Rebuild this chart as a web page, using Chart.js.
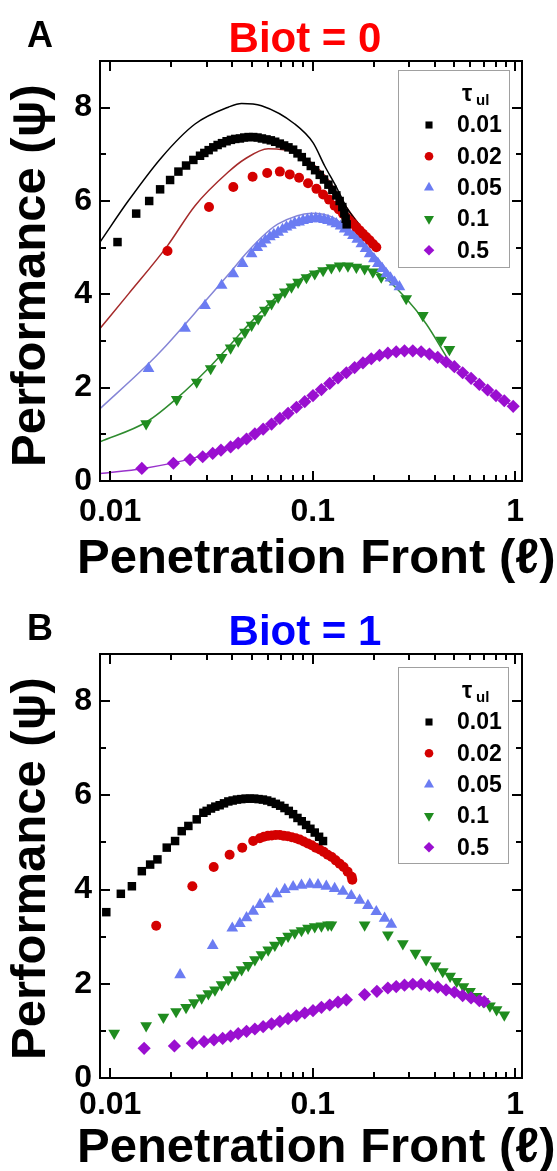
<!DOCTYPE html>
<html>
<head>
<meta charset="utf-8">
<script src="https://cdn.jsdelivr.net/npm/chart.js@4.4.1/dist/chart.umd.min.js"></script>
<style>
  body { margin: 0; background: #fff; }
  #wrap { position: relative; width: 557px; height: 1171px; overflow: hidden; font-family: "Liberation Sans", Arial, sans-serif; font-weight: bold; color: #000; }
  canvas { position: absolute; left: 0; }
  .letter { position: absolute; left: 27px; font-size: 36px; line-height: 36px; }
  .biot { position: absolute; left: 100px; width: 410px; text-align: center; font-size: 42px; line-height: 42px; }
  .xtitle { position: absolute; left: 77px; font-size: 49px; line-height: 49px; white-space: nowrap; }
  .ytitle { position: absolute; left: -182px; width: 420px; height: 49px; text-align: center; font-size: 49px; line-height: 49px; white-space: nowrap; transform: rotate(-90deg); }
</style>
</head>
<body>
<div id="wrap">
  <canvas id="chartA" width="557" height="593" style="top:0"></canvas>
  <canvas id="chartB" width="557" height="578" style="top:593px"></canvas>
  <div class="letter" style="top:17px">A</div>
  <div class="biot" style="top:17px; color:#f00">Biot = 0</div>
  <div class="ytitle" style="top:251px">Performance (ψ)</div>
  <div class="xtitle" style="top:532px">Penetration Front (ℓ)</div>
  <div class="letter" style="top:610px">B</div>
  <div class="biot" style="top:610px; color:#00f">Biot = 1</div>
  <div class="ytitle" style="top:844px">Performance (ψ)</div>
  <div class="xtitle" style="top:1121px">Penetration Front (ℓ)</div>
</div>
<script>
const tauLabels = ['0.01', '0.02', '0.05', '0.1', '0.5'];
const xTicks = [0.01, 0.1, 1];
const xMinorTicks = [0.02, 0.03, 0.04, 0.05, 0.06, 0.07, 0.08, 0.09, 0.2, 0.3, 0.4, 0.5, 0.6, 0.7, 0.8, 0.9];
const yTicks = [0, 2, 4, 6, 8];
const yMinorTicks = [1, 3, 5, 7];

// panel A (Biot = 0), symbols
const aX001 = [0.01086, 0.01343, 0.01557, 0.01763, 0.01975, 0.02171, 0.02368, 0.02573, 0.02776, 0.02915, 0.03062, 0.03228, 0.03391, 0.03563, 0.03755, 0.03945, 0.04145, 0.04369, 0.04589, 0.04822, 0.05083, 0.05339, 0.05609, 0.05912, 0.06211, 0.06524, 0.06877, 0.07224, 0.07589, 0.0800, 0.0841, 0.0883, 0.0931, 0.0978, 0.1027, 0.1083, 0.1137, 0.1195, 0.1250, 0.1308, 0.1358, 0.1400, 0.1432, 0.1454, 0.1471];
const aY001 = [5.12, 5.73, 6.00, 6.25, 6.45, 6.63, 6.76, 6.88, 6.97, 7.03, 7.09, 7.15, 7.20, 7.24, 7.28, 7.31, 7.33, 7.34, 7.36, 7.37, 7.37, 7.36, 7.34, 7.32, 7.30, 7.27, 7.23, 7.19, 7.15, 7.10, 7.02, 6.94, 6.84, 6.75, 6.66, 6.56, 6.46, 6.35, 6.24, 6.12, 6.00, 5.87, 5.74, 5.62, 5.50];
const aX002 = [0.01917, 0.03074, 0.04052, 0.05047, 0.05957, 0.0688, 0.0770, 0.0856, 0.0948, 0.1043, 0.1125, 0.1204, 0.1283, 0.1346, 0.1410, 0.1465, 0.1521, 0.1580, 0.1642, 0.1705, 0.1770, 0.1838, 0.1910, 0.1985, 0.2060];
const aY002 = [4.93, 5.87, 6.30, 6.52, 6.60, 6.63, 6.57, 6.50, 6.38, 6.26, 6.14, 6.03, 5.90, 5.82, 5.73, 5.65, 5.58, 5.51, 5.44, 5.37, 5.30, 5.23, 5.16, 5.08, 5.01];
const aX005 = [0.01545, 0.02342, 0.02938, 0.03548, 0.04052, 0.04503, 0.04989, 0.0532, 0.05585, 0.05846, 0.0614, 0.06425, 0.06747, 0.07089, 0.0742, 0.07793, 0.0815, 0.0856, 0.0896, 0.0941, 0.0985, 0.1035, 0.1083, 0.1137, 0.1190, 0.1250, 0.1308, 0.1373, 0.1438, 0.1510, 0.1580, 0.1660, 0.1738, 0.1824, 0.1910, 0.2005, 0.2098, 0.2203, 0.2307, 0.2421, 0.2535, 0.2680];
const aY005 = [2.41, 3.27, 3.76, 4.19, 4.44, 4.66, 4.87, 5.00, 5.08, 5.16, 5.23, 5.28, 5.33, 5.39, 5.44, 5.48, 5.53, 5.55, 5.58, 5.60, 5.62, 5.63, 5.62, 5.60, 5.58, 5.55, 5.51, 5.46, 5.40, 5.33, 5.26, 5.18, 5.08, 4.98, 4.87, 4.76, 4.66, 4.55, 4.44, 4.35, 4.26, 4.16];
const aX01 = [0.01504, 0.0213, 0.02673, 0.03133, 0.03548, 0.0393, 0.04285, 0.04624, 0.04989, 0.05378, 0.05801, 0.06261, 0.06747, 0.07279, 0.07854, 0.08467, 0.0931, 0.1023, 0.1125, 0.1236, 0.1358, 0.1492, 0.1642, 0.1804, 0.1982, 0.2179, 0.2894, 0.3496, 0.4305, 0.4730];
const aY01 = [1.23, 1.75, 2.12, 2.41, 2.65, 2.85, 3.00, 3.19, 3.34, 3.48, 3.66, 3.80, 3.94, 4.05, 4.16, 4.26, 4.36, 4.44, 4.51, 4.57, 4.61, 4.61, 4.58, 4.55, 4.48, 4.37, 3.91, 3.55, 3.02, 2.82];
const aX05 = [0.01432, 0.02051, 0.02478, 0.02861, 0.03206, 0.03522, 0.0393, 0.04285, 0.0471, 0.05179, 0.0569, 0.06261, 0.0688, 0.07556, 0.0831, 0.0913, 0.1003, 0.1104, 0.1213, 0.1333, 0.1466, 0.1610, 0.1770, 0.1946, 0.2138, 0.2350, 0.2584, 0.2839, 0.3120, 0.3431, 0.3769, 0.4142, 0.4555, 0.5006, 0.5500, 0.6052, 0.6650, 0.7306, 0.8035, 0.8830, 0.9770];
const aY05 = [0.27, 0.38, 0.46, 0.52, 0.59, 0.66, 0.73, 0.81, 0.90, 1.01, 1.11, 1.22, 1.34, 1.45, 1.58, 1.70, 1.83, 1.96, 2.09, 2.21, 2.32, 2.43, 2.53, 2.62, 2.69, 2.74, 2.77, 2.79, 2.79, 2.77, 2.72, 2.65, 2.55, 2.45, 2.32, 2.20, 2.07, 1.95, 1.83, 1.72, 1.60];

// panel A, model curves
const aFitX001 = [0.0089, 0.01231, 0.01797, 0.02623, 0.03826, 0.04454, 0.05585, 0.0815, 0.1003, 0.1146, 0.1308, 0.1466, 0.1839];
const aFitY001 = [5.12, 6.01, 6.94, 7.65, 8.01, 8.09, 8.04, 7.65, 7.25, 6.75, 6.30, 5.87, 5.30];
const aFitX002 = [0.0089, 0.01231, 0.01923, 0.02623, 0.03826, 0.04624, 0.06026, 0.0815, 0.1146, 0.1466, 0.1839, 0.2138];
const aFitY002 = [3.27, 4.01, 5.05, 5.90, 6.62, 6.90, 7.12, 7.04, 6.55, 5.87, 5.30, 4.94];
const aFitX005 = [0.0089, 0.01517, 0.0183, 0.02938, 0.04052, 0.04624, 0.0591, 0.06747, 0.0985, 0.1259, 0.158, 0.206, 0.268];
const aFitY005 = [1.55, 2.48, 2.84, 3.85, 4.55, 4.85, 5.32, 5.51, 5.74, 5.65, 5.30, 4.80, 4.19];
const aFitX01 = [0.0089, 0.01517, 0.0213, 0.0311, 0.03826, 0.04538, 0.0662, 0.0967, 0.141, 0.2138, 0.2894, 0.363, 0.464];
const aFitY01 = [0.84, 1.27, 1.77, 2.45, 2.87, 3.23, 3.94, 4.44, 4.62, 4.44, 3.91, 3.37, 2.62];
const aFitX05 = [0.0089, 0.01459, 0.02573, 0.03755, 0.0548, 0.080, 0.1167, 0.1704, 0.2487, 0.312, 0.4066, 0.530, 0.717, 0.989];
const aFitY05 = [0.16, 0.27, 0.49, 0.73, 1.08, 1.53, 2.05, 2.50, 2.76, 2.79, 2.67, 2.37, 1.97, 1.59];

// panel B (Biot = 1), symbols
const bX001 = [0.00956, 0.01128, 0.01279, 0.01432, 0.01574, 0.0171, 0.01901, 0.0209, 0.02254, 0.02431, 0.02673, 0.02883, 0.02994, 0.03145, 0.03303, 0.0347, 0.03645, 0.03829, 0.04023, 0.04225, 0.04438, 0.04661, 0.04896, 0.0514, 0.054, 0.05673, 0.05957, 0.06258, 0.06573, 0.06904, 0.07252, 0.07617, 0.0800, 0.08404, 0.08828, 0.09272, 0.09739, 0.1023, 0.1075, 0.1124];
const bY001 = [3.52, 3.91, 4.07, 4.39, 4.53, 4.64, 4.89, 5.03, 5.24, 5.35, 5.49, 5.63, 5.67, 5.72, 5.76, 5.79, 5.83, 5.87, 5.89, 5.91, 5.92, 5.93, 5.93, 5.93, 5.92, 5.91, 5.89, 5.86, 5.82, 5.78, 5.73, 5.67, 5.60, 5.52, 5.45, 5.37, 5.29, 5.21, 5.12, 5.03];
const bX002 = [0.01686, 0.02544, 0.03243, 0.03886, 0.04487, 0.0508, 0.0548, 0.05737, 0.06003, 0.06281, 0.06573, 0.06877, 0.07196, 0.0753, 0.07879, 0.08245, 0.08627, 0.09027, 0.09449, 0.09888, 0.1035, 0.1083, 0.1133, 0.1185, 0.1241, 0.1298, 0.1358, 0.1421, 0.1487, 0.1556, 0.1568];
const bY002 = [3.23, 4.07, 4.48, 4.74, 4.89, 5.03, 5.09, 5.12, 5.14, 5.15, 5.16, 5.16, 5.14, 5.13, 5.11, 5.09, 5.06, 5.02, 4.98, 4.94, 4.89, 4.85, 4.80, 4.74, 4.69, 4.62, 4.55, 4.48, 4.38, 4.27, 4.21];
const bX005 = [0.02213, 0.03206, 0.04005, 0.04365, 0.0471, 0.0508, 0.0549, 0.06026, 0.0663, 0.07279, 0.080, 0.088, 0.0967, 0.1062, 0.1167, 0.1283, 0.141, 0.155, 0.1704, 0.1873, 0.206, 0.2263, 0.2443];
const bY005 = [2.19, 2.81, 3.18, 3.28, 3.40, 3.54, 3.68, 3.80, 3.91, 4.00, 4.06, 4.09, 4.11, 4.10, 4.07, 4.02, 3.96, 3.87, 3.77, 3.66, 3.53, 3.39, 3.26];
const bX01 = [0.01046, 0.01504, 0.0183, 0.02114, 0.02368, 0.02593, 0.02829, 0.03051, 0.0329, 0.03548, 0.03826, 0.04128, 0.04454, 0.04802, 0.05179, 0.05585, 0.06026, 0.06499, 0.07013, 0.07556, 0.0815, 0.088, 0.0948, 0.1023, 0.1104, 0.119, 0.1236, 0.1804, 0.235, 0.2786, 0.3216, 0.3631, 0.4036, 0.4385, 0.4768, 0.514, 0.5546, 0.598, 0.645, 0.6955, 0.750, 0.809, 0.883];
const bY01 = [0.95, 1.11, 1.29, 1.41, 1.50, 1.60, 1.70, 1.79, 1.87, 1.98, 2.09, 2.19, 2.30, 2.39, 2.51, 2.62, 2.72, 2.82, 2.92, 3.01, 3.08, 3.13, 3.18, 3.21, 3.23, 3.25, 3.25, 3.25, 3.04, 2.85, 2.65, 2.51, 2.38, 2.26, 2.16, 2.05, 1.94, 1.84, 1.73, 1.62, 1.53, 1.45, 1.34];
const bX05 = [0.0147, 0.02074, 0.02544, 0.02904, 0.03253, 0.0359, 0.0393, 0.04285, 0.0471, 0.05179, 0.0569, 0.06261, 0.0688, 0.07556, 0.0831, 0.0913, 0.1003, 0.1104, 0.1213, 0.1333, 0.1466, 0.1804, 0.2074, 0.235, 0.2584, 0.2839, 0.312, 0.3431, 0.3769, 0.4142, 0.4555, 0.5006, 0.55, 0.6052, 0.665, 0.703];
const bY05 = [0.63, 0.68, 0.74, 0.77, 0.81, 0.84, 0.89, 0.94, 0.99, 1.04, 1.09, 1.15, 1.20, 1.26, 1.32, 1.38, 1.43, 1.50, 1.55, 1.61, 1.66, 1.77, 1.84, 1.91, 1.94, 1.97, 1.99, 1.99, 1.96, 1.93, 1.87, 1.82, 1.75, 1.70, 1.64, 1.62];

const FONT = '"Liberation Sans", Arial, sans-serif';
Chart.defaults.font.family = FONT;

// marker look per tau, same order as tauLabels
const styles = [
  { color: '#000000', line: '#000000', shape: 'rect', r: 6, rot: 0, lr: 5 },
  { color: '#d40000', line: '#a52a2a', shape: 'circle', r: 5, rot: 0, lr: 4.3 },
  { color: '#6b7cf2', line: '#8585d6', shape: 'triangle', r: 6.8, rot: 0, lr: 5.8 },
  { color: '#1f8c1f', line: '#2e8b2e', shape: 'triangle', r: 6.8, rot: 180, lr: 5.8 },
  { color: '#9a0fd0', line: '#9932cc', shape: 'rectRot', r: 6.6, rot: 0, lr: 5.3 }
];

function pts(xs, ys) {
  return xs.map((x, i) => ({ x: x, y: ys[i] }));
}

function marker(i, xs, ys, order) {
  const s = styles[i];
  return {
    label: tauLabels[i], isMarker: true, data: pts(xs, ys), order: order,
    pointStyle: s.shape, pointRotation: s.rot, pointRadius: s.r, legendRadius: s.lr,
    backgroundColor: s.color, borderColor: s.color, pointBorderWidth: 0, showLine: false
  };
}

function fit(i, xs, ys) {
  return {
    label: 'fit ' + tauLabels[i], data: pts(xs, ys), order: 20 + i,
    showLine: true, pointRadius: 0, borderColor: styles[i].line, borderWidth: 1.5,
    cubicInterpolationMode: 'monotone'
  };
}

// square frame with inward ticks on all four sides
const frameTicks = {
  id: 'frameTicks',
  afterDraw(chart) {
    const { ctx, chartArea: a, scales: { x, y } } = chart;
    ctx.save();
    ctx.strokeStyle = '#000';
    ctx.lineWidth = 2;
    ctx.strokeRect(a.left, a.top, a.right - a.left, a.bottom - a.top);
    ctx.beginPath();
    const xt = (v, len) => {
      const p = Math.round(x.getPixelForValue(v));
      ctx.moveTo(p, a.bottom); ctx.lineTo(p, a.bottom - len);
      ctx.moveTo(p, a.top); ctx.lineTo(p, a.top + len);
    };
    const yt = (v, len) => {
      const p = Math.round(y.getPixelForValue(v));
      ctx.moveTo(a.left, p); ctx.lineTo(a.left + len, p);
      ctx.moveTo(a.right, p); ctx.lineTo(a.right - len, p);
    };
    xTicks.forEach(v => xt(v, 10));
    xMinorTicks.forEach(v => xt(v, 6));
    yTicks.forEach(v => yt(v, 10));
    yMinorTicks.forEach(v => yt(v, 6));
    ctx.stroke();
    ctx.restore();
  }
};

const tauLegend = {
  id: 'tauLegend',
  afterDraw(chart, args, opts) {
    const { ctx, chartArea: a } = chart;
    const bx = a.left + opts.x, by = a.top + opts.y;
    ctx.save();
    ctx.fillStyle = '#fff';
    ctx.fillRect(bx, by, opts.w, opts.h);
    ctx.strokeStyle = '#a0a0a0';
    ctx.lineWidth = 1;
    ctx.strokeRect(bx + 0.5, by + 0.5, opts.w, opts.h);
    ctx.fillStyle = '#000';
    ctx.textBaseline = 'alphabetic';
    ctx.font = 'bold 23px ' + FONT;
    ctx.fillText('τ', bx + 64, by + 31);
    ctx.font = 'bold 15px ' + FONT;
    ctx.fillText('ul', bx + 78, by + 35);
    ctx.font = 'bold 23px ' + FONT;
    ctx.textBaseline = 'middle';
    const items = chart.data.datasets.filter(d => d.isMarker)
      .sort((p, q) => tauLabels.indexOf(p.label) - tauLabels.indexOf(q.label));
    items.forEach((d, i) => {
      const cy = by + 55 + i * 31.3;
      ctx.fillStyle = d.backgroundColor;
      ctx.strokeStyle = d.borderColor;
      Chart.helpers.drawPoint(ctx, { pointStyle: d.pointStyle, rotation: d.pointRotation, radius: d.legendRadius, borderWidth: 0 }, bx + 31, cy);
      ctx.fillStyle = '#000';
      ctx.fillText(d.label, bx + 59, cy + 1);
    });
    ctx.restore();
  }
};

function makeChart(id, datasets, axisHeight, labelPad, legendBox) {
  return new Chart(document.getElementById(id), {
    type: 'scatter',
    data: { datasets: datasets },
    options: {
      responsive: false,
      animation: false,
      events: [],
      layout: { padding: { top: 61, right: 35, left: 0, bottom: 0 } },
      plugins: { legend: { display: false }, tooltip: { enabled: false }, tauLegend: legendBox },
      scales: {
        x: {
          type: 'logarithmic', min: 0.0089, max: 1.08,
          afterBuildTicks: s => { s.ticks = xTicks.map(v => ({ value: v })); },
          afterFit: s => { s.height = axisHeight; },
          grid: { display: false, drawTicks: false },
          border: { display: false },
          ticks: { autoSkip: false, maxRotation: 0, padding: labelPad, color: '#000',
                   font: { size: 32, weight: 'bold' }, callback: v => String(v) }
        },
        y: {
          min: 0, max: 9,
          afterBuildTicks: s => { s.ticks = yTicks.map(v => ({ value: v })); },
          afterFit: s => { s.width = 100; },
          grid: { display: false, drawTicks: false },
          border: { display: false },
          ticks: { padding: 8, color: '#000', font: { size: 32, weight: 'bold' } }
        }
      }
    },
    plugins: [frameTicks, tauLegend]
  });
}

makeChart('chartA', [
  marker(0, aX001, aY001, 0),
  marker(1, aX002, aY002, 1),
  marker(2, aX005, aY005, 2),
  marker(3, aX01, aY01, 3),
  marker(4, aX05, aY05, 4),
  fit(0, aFitX001, aFitY001),
  fit(1, aFitX002, aFitY002),
  fit(2, aFitX005, aFitY005),
  fit(3, aFitX01, aFitY01),
  fit(4, aFitX05, aFitY05)
], 112, 12, { x: 298, y: 9, w: 111, h: 197 });

makeChart('chartB', [
  marker(0, bX001, bY001, 0),
  marker(1, bX002, bY002, 1),
  marker(2, bX005, bY005, 2),
  marker(3, bX01, bY01, 4),
  marker(4, bX05, bY05, 3)
], 93, 8, { x: 298, y: 13, w: 110, h: 196 });
</script>
</body>
</html>
